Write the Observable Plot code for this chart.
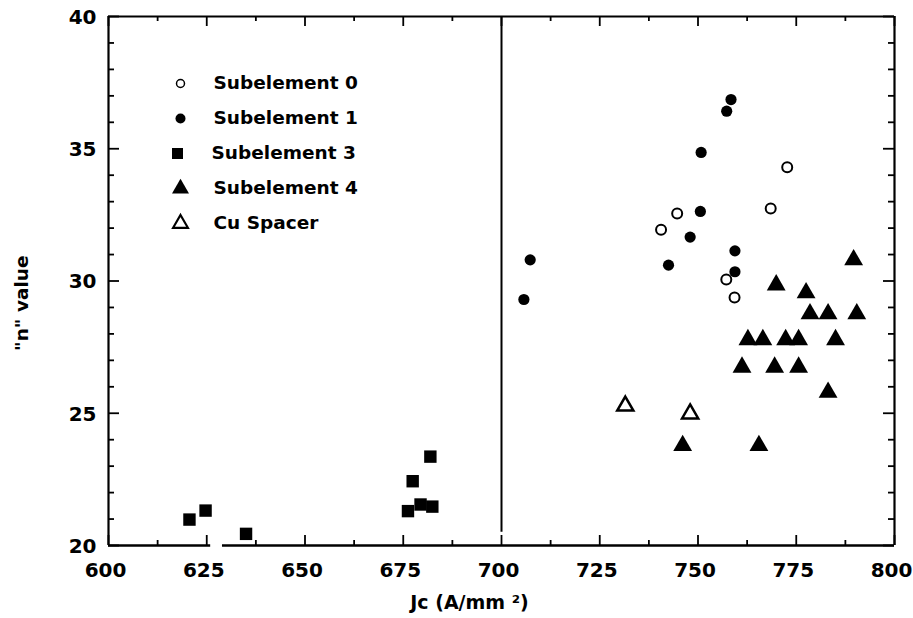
<!DOCTYPE html>
<html><head><meta charset="utf-8">
<script src="https://cdn.jsdelivr.net/npm/d3@7"></script>
<script src="https://cdn.jsdelivr.net/npm/@observablehq/plot@0.6"></script>
<style>
body{margin:0;background:#fff}
</style>
</head><body><div id="chart"></div>
<script>
// ---- data ----
const sub0Jc = [772.7, 744.7, 740.6, 768.5, 757.2, 759.3];
const sub0N  = [34.30, 32.55, 31.94, 32.74, 30.06, 29.38];
const sub1Jc = [758.4, 757.3, 750.8, 750.6, 748.0, 759.4, 759.4, 742.5, 707.3, 705.7];
const sub1N  = [36.86, 36.42, 34.86, 32.63, 31.66, 31.14, 30.35, 30.60, 30.80, 29.30];
const sub3Jc = [620.6, 624.7, 635.0, 677.4, 681.9, 676.2, 679.4, 682.4];
const sub3N  = [20.98, 21.32, 20.44, 22.43, 23.36, 21.30, 21.55, 21.47];
const sub4Jc = [789.6, 769.9, 777.5, 778.5, 783.1, 790.4, 762.7, 766.5, 772.3, 775.6, 785.0, 761.2, 769.5, 775.6, 783.1, 746.1, 765.5];
const sub4N  = [30.8, 29.85, 29.55, 28.76, 28.76, 28.76, 27.78, 27.78, 27.78, 27.78, 27.78, 26.74, 26.74, 26.74, 25.79, 23.78, 23.78];
const cuJc = [731.5, 748.0];
const cuN  = [25.28, 24.98];

const seriesNames = ["Subelement 0", "Subelement 1", "Subelement 3", "Subelement 4", "Cu Spacer"];
const xDomain = [600, 800];
const yDomain = [20, 40];
const xMajor = [600, 625, 650, 675, 700, 725, 750, 775, 800];
const xMinor = [612.5, 637.5, 662.5, 687.5, 712.5, 737.5, 762.5, 787.5];
const yMajor = [20, 25, 30, 35, 40];
const yMinor = [21, 22, 23, 24, 26, 27, 28, 29, 31, 32, 33, 34, 36, 37, 38, 39];
const axisBreak = [626, 629];     // gap in the bottom axis line
const divider = {x: 700, from: 20.5, to: 40};
const xLabel = "Jc (A/mm ²)";
const yLabel = "\"n\" value";

// ---- styles ----
const styles = [
  {symbol: "circle",   r: 5,   fill: "white", stroke: "black", strokeWidth: 2,   lr: 4,   lsw: 1.5},
  {symbol: "circle",   r: 5.6, fill: "black", stroke: "none",  strokeWidth: 0,   lr: 5,   lsw: 0},
  {symbol: "square",   r: 7,   fill: "black", stroke: "none",  strokeWidth: 0,   lr: 6.2, lsw: 0},
  {symbol: "triangle", r: 7,   fill: "black", stroke: "none",  strokeWidth: 0,   lr: 6.3, lsw: 0},
  {symbol: "triangle", r: 6,   fill: "white", stroke: "black", strokeWidth: 2.5, lr: 5.5, lsw: 2.2}
];
const xs = [sub0Jc, sub1Jc, sub3Jc, sub4Jc, cuJc];
const ys = [sub0N, sub1N, sub3N, sub4N, cuN];

const W = 913, H = 618;
const mL = 108, mR = 19, mT = 16, mB = 73;
const innerW = W - mL - mR, innerH = H - mT - mB;
const font = "DejaVu Sans, Liberation Sans, Arial, sans-serif";

const pointMarks = seriesNames.map((name, i) => {
  const s = styles[i];
  const rows = xs[i].map((x, j) => ({x, y: ys[i][j]}));
  return Plot.dot(rows, {x: "x", y: "y", symbol: () => s.symbol, r: s.r, fill: s.fill, stroke: s.stroke, strokeWidth: s.strokeWidth});
});

const legendMarks = seriesNames.flatMap((name, i) => {
  const s = styles[i];
  const dy = 67 + i * 35;
  return [
    Plot.dot([name], {frameAnchor: "top-left", dx: i === 2 ? 69 : 72, dy, symbol: () => s.symbol, r: s.lr, fill: s.fill, stroke: s.stroke, strokeWidth: s.lsw}),
    Plot.text([name], {frameAnchor: "top-left", dx: i === 2 ? 103 : 105, dy, text: d => d, textAnchor: "start", lineAnchor: "middle", fontSize: 18.5, fontWeight: "bold", fill: "black"})
  ];
});

const bottomSegs = [{x1: xDomain[0], x2: axisBreak[0]}, {x1: axisBreak[1], x2: xDomain[1]}];

const chart = Plot.plot({
  width: W, height: H,
  marginLeft: mL, marginRight: mR, marginTop: mT, marginBottom: mB,
  style: {fontFamily: font, background: "white", color: "black"},
  x: {domain: xDomain, axis: null},
  y: {domain: yDomain, axis: null},
  marks: [
    // frame
    Plot.ruleX(xDomain, {strokeWidth: 2.2}),
    Plot.ruleY([yDomain[1]], {strokeWidth: 2.2}),
    Plot.ruleY(bottomSegs, {y: yDomain[0], x1: "x1", x2: "x2", strokeWidth: 2.4}),
    Plot.ruleX([divider.x], {y1: divider.from, y2: divider.to, strokeWidth: 2}),
    // inward ticks
    Plot.tickX(xMajor, {x: d => d, insetTop: innerH - 10, strokeWidth: 1.8}),
    Plot.tickX(xMinor, {x: d => d, insetTop: innerH - 5, strokeWidth: 1.8}),
    Plot.tickX(xMajor, {x: d => d, insetBottom: innerH - 10, strokeWidth: 1.8}),
    Plot.tickX(xMinor, {x: d => d, insetBottom: innerH - 5, strokeWidth: 1.8}),
    Plot.tickY(yMajor, {y: d => d, insetRight: innerW - 11, strokeWidth: 1.8}),
    Plot.tickY(yMinor, {y: d => d, insetRight: innerW - 6, strokeWidth: 1.8}),
    Plot.tickY(yMajor, {y: d => d, insetLeft: innerW - 11, strokeWidth: 1.8}),
    Plot.tickY(yMinor, {y: d => d, insetLeft: innerW - 6, strokeWidth: 1.8}),
    // tick labels
    Plot.text(xMajor, {x: d => d, y: yDomain[0], dy: 25, dx: -3, text: d => String(d), fontSize: 20, fontWeight: "bold", lineAnchor: "middle"}),
    Plot.text(yMajor, {x: xDomain[0], y: d => d, dx: -12, dy: 1, text: d => String(d), fontSize: 20, fontWeight: "bold", textAnchor: "end", lineAnchor: "middle"}),
    // axis titles
    Plot.text([xLabel], {frameAnchor: "bottom", dx: -32, dy: 57, text: d => d, fontSize: 19, fontWeight: "bold", lineAnchor: "middle"}),
    Plot.text([yLabel], {frameAnchor: "left", dx: -86, dy: 70, rotate: -90, text: d => d, fontSize: 18.5, fontWeight: "bold", lineAnchor: "middle"}),
    ...pointMarks,
    ...legendMarks
  ]
});
document.getElementById("chart").append(chart);
</script>
</body></html>
